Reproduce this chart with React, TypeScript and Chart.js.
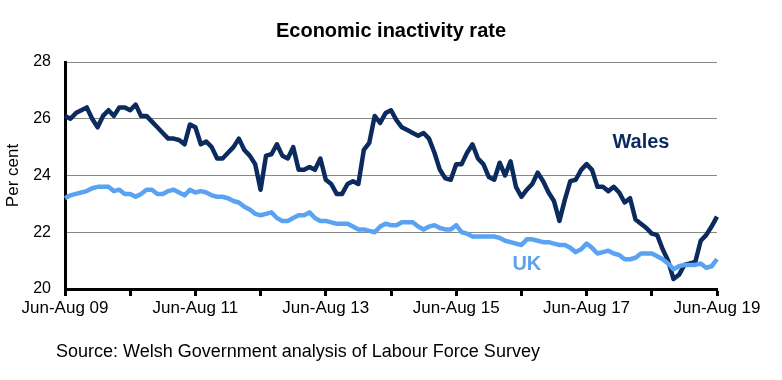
import React, { useEffect, useRef } from "react";
import { Chart, registerables } from "chart.js";

Chart.register(...registerables);

// Rolling three-month periods, Jun-Aug 09 to Jun-Aug 19
const MONTHS = ["Jan", "Feb", "Mar", "Apr", "May", "Jun", "Jul", "Aug", "Sep", "Oct", "Nov", "Dec"];
const FIRST_START_MONTH = 5; // June 2009
const PERIOD_COUNT = 121;
const categories: string[] = [];
for (let i = 0; i < PERIOD_COUNT; i++) {
  const s = FIRST_START_MONTH + i;
  const e = s + 2;
  const yy = 9 + Math.floor(e / 12);
  categories.push(`${MONTHS[s % 12]}-${MONTHS[e % 12]} ${String(yy).padStart(2, "0")}`);
}

const walesRate = [
  26.1, 26.0, 26.2, 26.3, 26.4, 26.0, 25.7, 26.1, 26.3, 26.1,
  26.4, 26.4, 26.3, 26.5, 26.1, 26.1, 25.9, 25.7, 25.5, 25.3,
  25.3, 25.25, 25.1, 25.8, 25.7, 25.1, 25.2, 25.0, 24.6, 24.6,
  24.8, 25.0, 25.3, 24.9, 24.7, 24.4, 23.5, 24.7, 24.75, 25.1,
  24.7, 24.6, 25.0, 24.2, 24.2, 24.3, 24.2, 24.6, 23.85, 23.7,
  23.35, 23.35, 23.7, 23.8, 23.7, 24.9, 25.15, 26.1, 25.85, 26.2,
  26.3, 25.95, 25.7, 25.6, 25.5, 25.4, 25.5, 25.3, 24.8, 24.2,
  23.9, 23.85, 24.4, 24.4, 24.8, 25.1, 24.6, 24.4, 23.95, 23.85,
  24.45, 24.0, 24.5, 23.6, 23.25, 23.5, 23.7, 24.1, 23.8, 23.4,
  23.1, 22.4, 23.15, 23.8, 23.85, 24.2, 24.4, 24.2, 23.6, 23.6,
  23.45, 23.6, 23.4, 23.05, 23.2, 22.45, 22.3, 22.15, 21.95, 21.9,
  21.4, 21.0, 20.35, 20.5, 20.85, 20.9, 20.95, 21.7, 21.9, 22.2,
  22.55,
];

const ukRate = [
  23.2, 23.3, 23.35, 23.4, 23.45, 23.55, 23.6, 23.6, 23.6, 23.45,
  23.5, 23.35, 23.35, 23.25, 23.35, 23.5, 23.5, 23.35, 23.35, 23.45,
  23.5, 23.4, 23.3, 23.5, 23.4, 23.45, 23.4, 23.3, 23.25, 23.25,
  23.2, 23.1, 23.05, 22.9, 22.8, 22.65, 22.6, 22.65, 22.7, 22.5,
  22.4, 22.4, 22.5, 22.6, 22.6, 22.7, 22.5, 22.4, 22.4, 22.35,
  22.3, 22.3, 22.3, 22.2, 22.1, 22.1, 22.05, 22.0, 22.2, 22.3,
  22.25, 22.25, 22.35, 22.35, 22.35, 22.2, 22.1, 22.2, 22.25, 22.15,
  22.1, 22.1, 22.25, 22.0, 21.95, 21.85, 21.85, 21.85, 21.85, 21.85,
  21.8, 21.7, 21.65, 21.6, 21.55, 21.75, 21.75, 21.7, 21.65, 21.65,
  21.6, 21.55, 21.55, 21.45, 21.3, 21.4, 21.6, 21.45, 21.25, 21.3,
  21.35, 21.25, 21.2, 21.05, 21.05, 21.1, 21.25, 21.25, 21.25, 21.15,
  21.05, 20.9, 20.7, 20.8, 20.85, 20.85, 20.85, 20.9, 20.75, 20.8,
  21.05,
];

const yTicks = [20, 22, 24, 26, 28];
const titleText = "Economic inactivity rate";
const sourceText = "Source: Welsh Government analysis of Labour Force Survey";
const yAxisTitle = "Per cent";

const WALES_COLOR = "#0b2b5e";
const UK_COLOR = "#5aa3f2";
const FONT = "'Liberation Sans', Arial, sans-serif";

// label anchors in data coordinates: [category index, value]
const walesLabelAnchor = [106, 25.15];
const ukLabelAnchor = [85, 20.85];

const textPlugin = {
  id: "texts",
  afterDraw(chart: any) {
    const ctx = chart.ctx;
    const xs = chart.scales.x;
    const ys = chart.scales.y;
    ctx.save();
    ctx.textBaseline = "middle";
    // title
    ctx.fillStyle = "#000";
    ctx.textAlign = "center";
    ctx.font = `bold 20px ${FONT}`;
    ctx.fillText(titleText, (chart.chartArea.left + chart.chartArea.right) / 2, 31);
    // source
    ctx.textAlign = "left";
    ctx.font = `18px ${FONT}`;
    ctx.fillText(sourceText, 56, 352);
    // series labels
    ctx.textAlign = "center";
    ctx.font = `bold 20px ${FONT}`;
    ctx.fillStyle = WALES_COLOR;
    ctx.fillText("Wales", xs.getPixelForValue(walesLabelAnchor[0]), ys.getPixelForValue(walesLabelAnchor[1]));
    ctx.fillStyle = UK_COLOR;
    ctx.fillText("UK", xs.getPixelForValue(ukLabelAnchor[0]), ys.getPixelForValue(ukLabelAnchor[1]));
    ctx.restore();
  },
};

export default function App() {
  const ref = useRef<HTMLCanvasElement>(null);
  useEffect(() => {
    if (!ref.current) return;
    const chart = new Chart(ref.current, {
      type: "line",
      data: {
        labels: categories,
        datasets: [
          {
            label: "UK",
            data: ukRate,
            borderColor: UK_COLOR,
            borderWidth: 4.5,
            pointRadius: 0,
            tension: 0,
            borderJoinStyle: "round",
          },
          {
            label: "Wales",
            data: walesRate,
            borderColor: WALES_COLOR,
            borderWidth: 4.5,
            pointRadius: 0,
            tension: 0,
            borderJoinStyle: "round",
          },
        ],
      },
      options: {
        animation: false,
        responsive: true,
        maintainAspectRatio: false,
        layout: { padding: { left: 0, right: 65, top: 62, bottom: 61 } },
        plugins: { legend: { display: false }, tooltip: { enabled: false }, title: { display: false } },
        scales: {
          x: {
            type: "category",
            offset: false,
            afterFit: (s: any) => {
              s.height = 30;
            },
            border: { display: true, color: "#000", width: 3 },
            grid: {
              drawOnChartArea: false,
              drawTicks: true,
              tickLength: 7,
              tickWidth: 3,
              tickColor: (c: any) => (c.index % 12 === 0 ? "#000" : "rgba(0,0,0,0)"),
            },
            ticks: {
              autoSkip: false,
              maxRotation: 0,
              minRotation: 0,
              padding: 2,
              color: "#000",
              font: { family: FONT, size: 17 },
              callback: (_v: any, i: number) => (i % 24 === 0 ? categories[i] : ""),
            },
          },
          y: {
            min: 20,
            max: 28,
            afterFit: (s: any) => {
              s.width = 65;
            },
            afterBuildTicks: (s: any) => {
              s.ticks = yTicks.map((v) => ({ value: v }));
            },
            border: { display: true, color: "#000", width: 3 },
            grid: { color: "#888", lineWidth: 1, drawTicks: false },
            ticks: {
              padding: 14,
              color: "#000",
              font: { family: FONT, size: 16 },
            },
            title: {
              display: true,
              text: yAxisTitle,
              color: "#000",
              font: { family: FONT, size: 17 },
              padding: { top: 3, bottom: 0 },
            },
          },
        },
      },
      plugins: [textPlugin],
    });
    return () => chart.destroy();
  }, []);
  return (
    <div style={{ position: "absolute", left: 0, top: 0, width: 782, height: 380, background: "#fff" }}>
      <canvas ref={ref} />
    </div>
  );
}
